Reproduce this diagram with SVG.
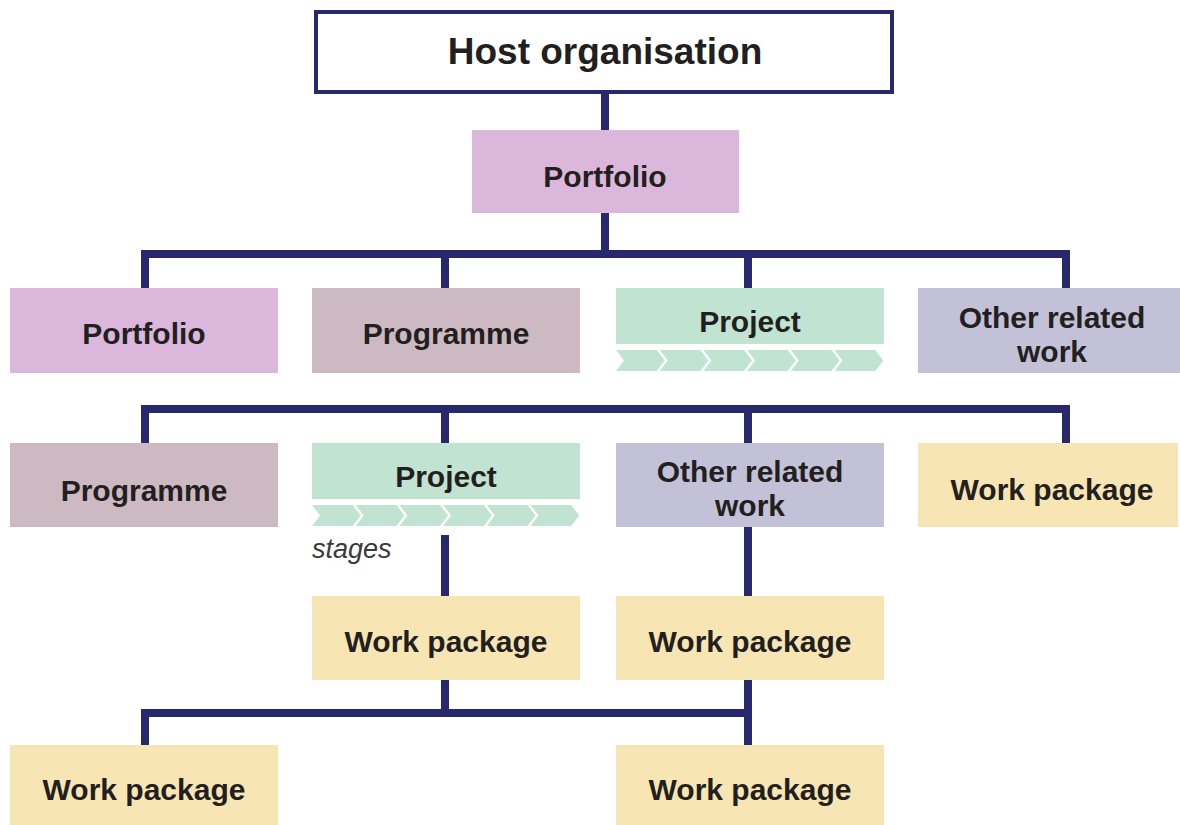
<svg xmlns="http://www.w3.org/2000/svg" width="1180" height="825" viewBox="0 0 1180 825">
<style>
.lbl{font-family:"Liberation Sans",Arial,sans-serif;font-weight:bold;font-size:30px;fill:#231f20;text-anchor:middle}
.host{font-size:37px}
.stg{font-family:"Liberation Sans",Arial,sans-serif;font-style:italic;font-size:27px;fill:#3a3a3a}
.pf{fill:#dcb7dc}
.pg{fill:#cdb9c1}
.pj{fill:#c0e4d1}
.ow{fill:#c2c1d7}
.wp{fill:#f7e5b3}
.ln{fill:none;stroke:#28286c;stroke-width:8;stroke-linejoin:miter}
</style>
<defs>
<polygon id="chev" points="0,0 40.7,0 48.7,10.5 40.7,21 0,21 8,10.5"/>
<g id="chevrow">
<use href="#chev" x="0"/>
<use href="#chev" x="43.7"/>
<use href="#chev" x="87.4"/>
<use href="#chev" x="131.1"/>
<use href="#chev" x="174.8"/>
<use href="#chev" x="218.5"/>
</g>
</defs>
<rect width="1180" height="825" fill="#ffffff"/>
<g id="connectors">
<path class="ln" d="M605 92 V130"/>
<path class="ln" d="M605 213 V254"/>
<path class="ln" d="M145 288 V254 H1066 V288"/>
<path class="ln" d="M445 254 V288"/>
<path class="ln" d="M748 254 V288"/>
<path class="ln" d="M145 443 V409 H1066 V443"/>
<path class="ln" d="M445 409 V443"/>
<path class="ln" d="M748 409 V443"/>
<path class="ln" d="M445 535 V596"/>
<path class="ln" d="M748 527 V596"/>
<path class="ln" d="M445 680 V713"/>
<path class="ln" d="M145 745 V713 H748"/>
<path class="ln" d="M748 680 V745"/>
</g>
<g id="host">
<rect x="316" y="12" width="576" height="80" fill="#ffffff" stroke="#28286c" stroke-width="4"/>
<text class="lbl host" x="605" y="64">Host organisation</text>
</g>
<g id="portfolio-top">
<rect class="pf" x="472" y="130" width="267" height="83"/>
<text class="lbl" x="605" y="187">Portfolio</text>
</g>
<g id="portfolio-2">
<rect class="pf" x="10" y="288" width="268" height="85"/>
<text class="lbl" x="144" y="344">Portfolio</text>
</g>
<g id="programme-2">
<rect class="pg" x="312" y="288" width="268" height="85"/>
<text class="lbl" x="446" y="344">Programme</text>
</g>
<g id="project-2">
<rect class="pj" x="616" y="288" width="268" height="56"/>
<text class="lbl" x="750" y="332">Project</text>
<use href="#chevrow" x="616" y="350" class="pj"/>
</g>
<g id="other-2">
<rect class="ow" x="918" y="288" width="262" height="85"/>
<text class="lbl" x="1052" y="328">Other related</text>
<text class="lbl" x="1052" y="362">work</text>
</g>
<g id="programme-3">
<rect class="pg" x="10" y="443" width="268" height="84"/>
<text class="lbl" x="144" y="501">Programme</text>
</g>
<g id="project-3">
<rect class="pj" x="312" y="443" width="268" height="56"/>
<text class="lbl" x="446" y="487">Project</text>
<use href="#chevrow" x="312" y="505" class="pj"/>
<text class="stg" x="312" y="558">stages</text>
</g>
<g id="other-3">
<rect class="ow" x="616" y="443" width="268" height="84"/>
<text class="lbl" x="750" y="482">Other related</text>
<text class="lbl" x="750" y="516">work</text>
</g>
<g id="wp-3">
<rect class="wp" x="918" y="443" width="260" height="84"/>
<text class="lbl" x="1052" y="500">Work package</text>
</g>
<g id="wp-4a">
<rect class="wp" x="312" y="596" width="268" height="84"/>
<text class="lbl" x="446" y="652">Work package</text>
</g>
<g id="wp-4b">
<rect class="wp" x="616" y="596" width="268" height="84"/>
<text class="lbl" x="750" y="652">Work package</text>
</g>
<g id="wp-5a">
<rect class="wp" x="10" y="745" width="268" height="81"/>
<text class="lbl" x="144" y="800">Work package</text>
</g>
<g id="wp-5b">
<rect class="wp" x="616" y="745" width="268" height="81"/>
<text class="lbl" x="750" y="800">Work package</text>
</g>
</svg>
